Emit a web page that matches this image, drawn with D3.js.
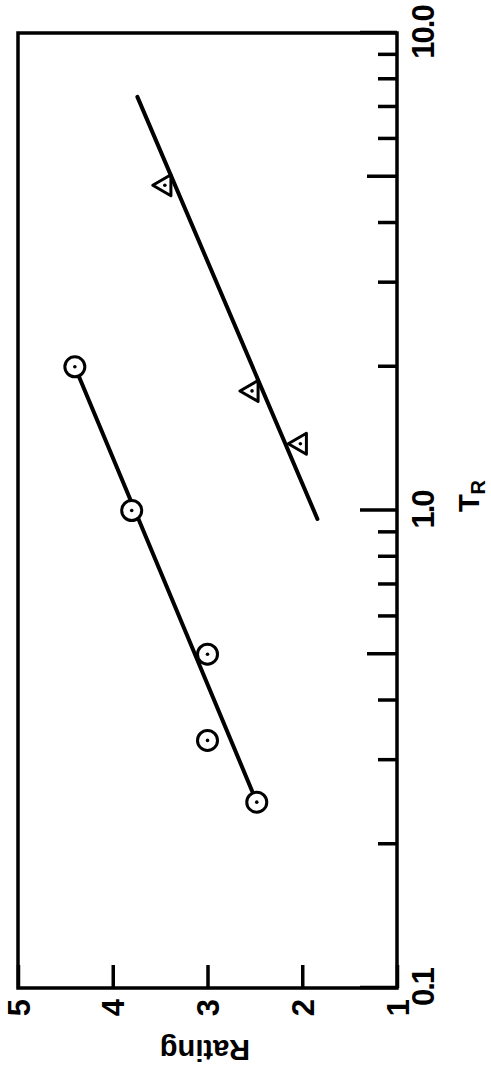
<!DOCTYPE html>
<html>
<head>
<meta charset="utf-8">
<script src="https://cdn.jsdelivr.net/npm/d3@7"></script>
<style>
  html, body { margin: 0; padding: 0; background: #fff; }
  text { font-family: 'Liberation Sans', Arial, sans-serif; font-weight: bold; fill: #000; }
</style>
</head>
<body>
<div id="app"></div>
<script>
(function (d3) {

  'use strict'

  // circles (open circle with dot)
  const circleTR = [2.0, 1.0, 0.5, 0.33, 0.245]
  const circleRating = [4.4, 3.8, 3.0, 3.0, 2.48]
  // triangles
  const triTR = [4.8, 1.78, 1.38]
  const triRating = [3.45, 2.53, 2.02]
  // fitted lines (end points)
  const circleFitTR = [0.245, 2.0]
  const circleFitRating = [2.48, 4.4]
  const triFitTR = [0.96, 7.35]
  const triFitRating = [1.84, 3.74]

  const trTicks = [0.1, 0.2, 0.3, 0.4, 0.5, 0.6, 0.7, 0.8, 0.9,
    1, 2, 3, 4, 5, 6, 7, 8, 9, 10]
  const trLabels = {0.1: '0.1', 1: '1.0', 10: '10.0'}
  const ratingTicks = [1, 2, 3, 4, 5]

  const W = 491
  const H = 1072
  // plot size in the un-rotated frame
  const w = 955
  const h = 379

  const svg = d3.select('#app')
    .append('svg')
    .attr('width', W)
    .attr('height', H)

  // whole chart is turned a quarter turn anticlockwise
  const g = svg.append('g')
    .attr('transform', 'translate(18,988) rotate(-90)')

  const x = d3.scaleLog().domain([0.1, 10]).range([0, w])
  const y = d3.scaleLinear().domain([1, 5]).range([h, 0])

  const xAxis = d3.axisBottom(x)
    .tickValues(trTicks)
    .tickFormat(d => trLabels[d] || '')
    .tickSizeInner(-19)
    .tickSizeOuter(0)
    .tickPadding(15)

  const gx = g.append('g')
    .attr('transform', 'translate(0,' + h + ')')
    .call(xAxis)
  gx.select('.domain').remove()
  gx.selectAll('.tick line')
    .attr('stroke-width', 3.5)
    .attr('y2', d => trLabels[d] ? -37 : (d === 5 || d === 0.5 ? -30 : -19))
  gx.selectAll('.tick text')
    .style('font-size', '31px')
    .style('letter-spacing', '-2px')

  const yAxis = d3.axisLeft(y)
    .tickValues(ratingTicks)
    .tickFormat(d3.format('d'))
    .tickSizeInner(-23)
    .tickSizeOuter(0)
    .tickPadding(11)

  const gy = g.append('g').call(yAxis)
  gy.select('.domain').remove()
  gy.selectAll('.tick line').attr('stroke-width', 3.5)
  gy.selectAll('.tick text')
    .attr('dy', '0.36em')
    .style('font-size', '31px')

  // frame
  g.append('rect')
    .attr('x', 0)
    .attr('y', 0)
    .attr('width', w)
    .attr('height', h)
    .attr('fill', 'none')
    .attr('stroke', '#000')
    .attr('stroke-width', 3.5)

  // axis titles
  const tl = g.append('text')
    .attr('x', 492)
    .attr('y', h + 82)
    .attr('text-anchor', 'middle')
    .style('font-size', '29px')
  tl.append('tspan').text('T')
  tl.append('tspan')
    .attr('dy', 6)
    .style('font-size', '20px')
    .text('R')

  g.append('text')
    .attr('transform', 'translate(-62,' + 187 + ') rotate(-90)')
    .attr('text-anchor', 'middle')
    .attr('dominant-baseline', 'central')
    .style('font-size', '29px')
    .text('Rating')

  const line = d3.line()
    .x(d => x(d[0]))
    .y(d => y(d[1]))

  g.append('path')
    .datum(d3.zip(circleFitTR, circleFitRating))
    .attr('d', line)
    .attr('fill', 'none')
    .attr('stroke', '#000')
    .attr('stroke-width', 4)
    .attr('stroke-linecap', 'round')

  g.append('path')
    .datum(d3.zip(triFitTR, triFitRating))
    .attr('d', line)
    .attr('fill', 'none')
    .attr('stroke', '#000')
    .attr('stroke-width', 4)
    .attr('stroke-linecap', 'round')

  const circles = g.append('g')
    .selectAll('g')
    .data(d3.zip(circleTR, circleRating))
    .enter()
    .append('g')
    .attr('transform', d => 'translate(' + x(d[0]) + ',' + y(d[1]) + ')')
  circles.append('circle')
    .attr('r', 10)
    .attr('fill', '#fff')
    .attr('stroke', '#000')
    .attr('stroke-width', 3)
  circles.append('circle')
    .attr('r', 1.8)
    .attr('fill', '#000')

  const tris = g.append('g')
    .selectAll('g')
    .data(d3.zip(triTR, triRating))
    .enter()
    .append('g')
    .attr('transform', d => 'translate(' + x(d[0]) + ',' + y(d[1]) + ')')
  tris.append('path')
    .attr('d', d3.symbol(d3.symbolTriangle).size(190))
    .attr('fill', '#fff')
    .attr('stroke', '#000')
    .attr('stroke-width', 3)
    .attr('stroke-linejoin', 'round')
  tris.append('circle')
    .attr('r', 1.8)
    .attr('fill', '#000')

}(d3))
</script>
</body>
</html>
